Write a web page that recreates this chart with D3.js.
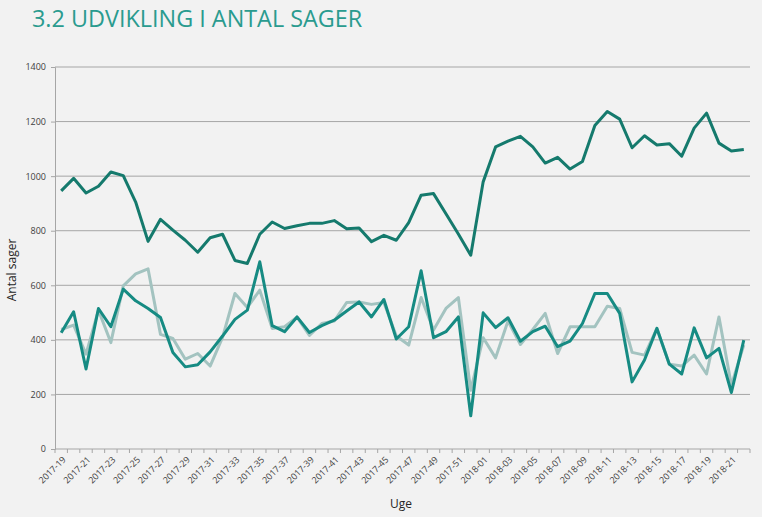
<!DOCTYPE html>
<html><head><meta charset="utf-8">
<script src="https://cdn.jsdelivr.net/npm/d3@7"></script>
<style>
body{margin:0;background:#f2f2f2;}
svg{display:block;}
</style></head>
<body>
<svg id="c" width="762" height="517"></svg>
<script>
const weeks = [];
for (let w = 19; w <= 52; w++) weeks.push("2017-" + String(w).padStart(2, "0"));
for (let w = 1; w <= 22; w++) weeks.push("2018-" + String(w).padStart(2, "0"));

const seriesTop = [946,992,938,963,1015,1002,905,761,842,802,765,721,774,787,691,680,787,832,808,818,827,827,837,807,810,760,783,765,830,930,936,862,788,710,979,1107,1128,1146,1107,1048,1069,1026,1054,1186,1237,1209,1104,1148,1114,1119,1073,1176,1231,1121,1092,1098];
const seriesMid = [426,503,293,515,448,586,543,515,482,354,301,309,356,414,475,509,686,452,430,484,427,452,472,506,539,484,548,403,448,653,408,430,484,122,499,445,481,395,430,450,375,395,460,570,570,497,246,326,442,311,275,444,334,369,207,399];
const seriesLow = [438,454,348,509,390,598,642,660,420,405,329,350,304,409,570,519,582,442,448,483,416,460,469,537,539,530,537,414,381,555,436,515,555,215,408,334,469,383,438,497,350,448,448,448,523,515,354,344,442,311,304,344,275,484,234,381];
const yTicks = [0,200,400,600,800,1000,1200,1400];

const svg = d3.select("#c");
const m = {l:55, r:12, t:67, b:68};
const W = 762, H = 517;
const x = d3.scaleBand().domain(weeks).range([m.l, W - m.r]);
const y = d3.scaleLinear().domain([0,1400]).range([H - m.b, m.t]);
const cx = d => x(d) + x.bandwidth()/2;

// title
svg.append("text").attr("x", 32).attr("y", 27)
  .style("font-family", "'Open Sans', sans-serif").style("font-size", "23.4px")
  .style("fill", "#2a9b8f").text("3.2 UDVIKLING I ANTAL SAGER");

// gridlines
svg.append("g").selectAll("line").data(yTicks.filter(d => d > 0)).join("line")
  .attr("x1", m.l).attr("x2", W - m.r)
  .attr("y1", d => y(d)).attr("y2", d => y(d))
  .attr("stroke", "#a6a6a6").attr("stroke-width", 1);

// y axis
const ya = svg.append("g").attr("transform", `translate(${m.l},0)`)
  .call(d3.axisLeft(y).tickValues(yTicks).tickFormat(d3.format("d")).tickSize(4).tickPadding(5));
ya.select(".domain").attr("stroke", "#a6a6a6");
ya.selectAll(".tick line").attr("stroke", "#a6a6a6");
ya.selectAll("text").style("font-family", "'Open Sans', sans-serif").style("font-size", "9px").style("fill", "#404040");

// x axis
const xa = svg.append("g").attr("transform", `translate(0,${H - m.b})`);
xa.append("line").attr("x1", m.l).attr("x2", W - m.r).attr("stroke", "#a6a6a6");
xa.selectAll("line.tk").data(d3.range(weeks.length + 1)).join("line").attr("class", "tk")
  .attr("x1", i => m.l + i * x.step()).attr("x2", i => m.l + i * x.step())
  .attr("y1", 0).attr("y2", 4).attr("stroke", "#a6a6a6");
xa.selectAll("text").data(weeks.filter((d, i) => i % 2 === 0)).join("text")
  .attr("transform", d => `translate(${cx(d) + 3},${9}) rotate(-45)`)
  .attr("text-anchor", "end").attr("dy", "0.35em")
  .style("font-family", "'Open Sans', sans-serif").style("font-size", "9px").style("fill", "#404040")
  .text(d => d);

// axis titles
svg.append("text").attr("transform", "translate(16,270) rotate(-90)").attr("text-anchor", "middle")
  .style("font-family", "'Open Sans', sans-serif").style("font-size", "12px").style("fill", "#262626")
  .text("Antal sager");
svg.append("text").attr("x", 401).attr("y", 508).attr("text-anchor", "middle")
  .style("font-family", "'Open Sans', sans-serif").style("font-size", "12px").style("fill", "#262626")
  .text("Uge");

const line = d3.line().x((d, i) => cx(weeks[i])).y(d => y(d));
const draw = (data, color, w) => svg.append("path").datum(data).attr("d", line)
  .attr("fill", "none").attr("stroke", color).attr("stroke-width", w)
  .attr("stroke-linejoin", "round");
draw(seriesLow, "#a3c3c0", 3);
draw(seriesMid, "#168b83", 3);
draw(seriesTop, "#157a6d", 3);
</script>
</body></html>
